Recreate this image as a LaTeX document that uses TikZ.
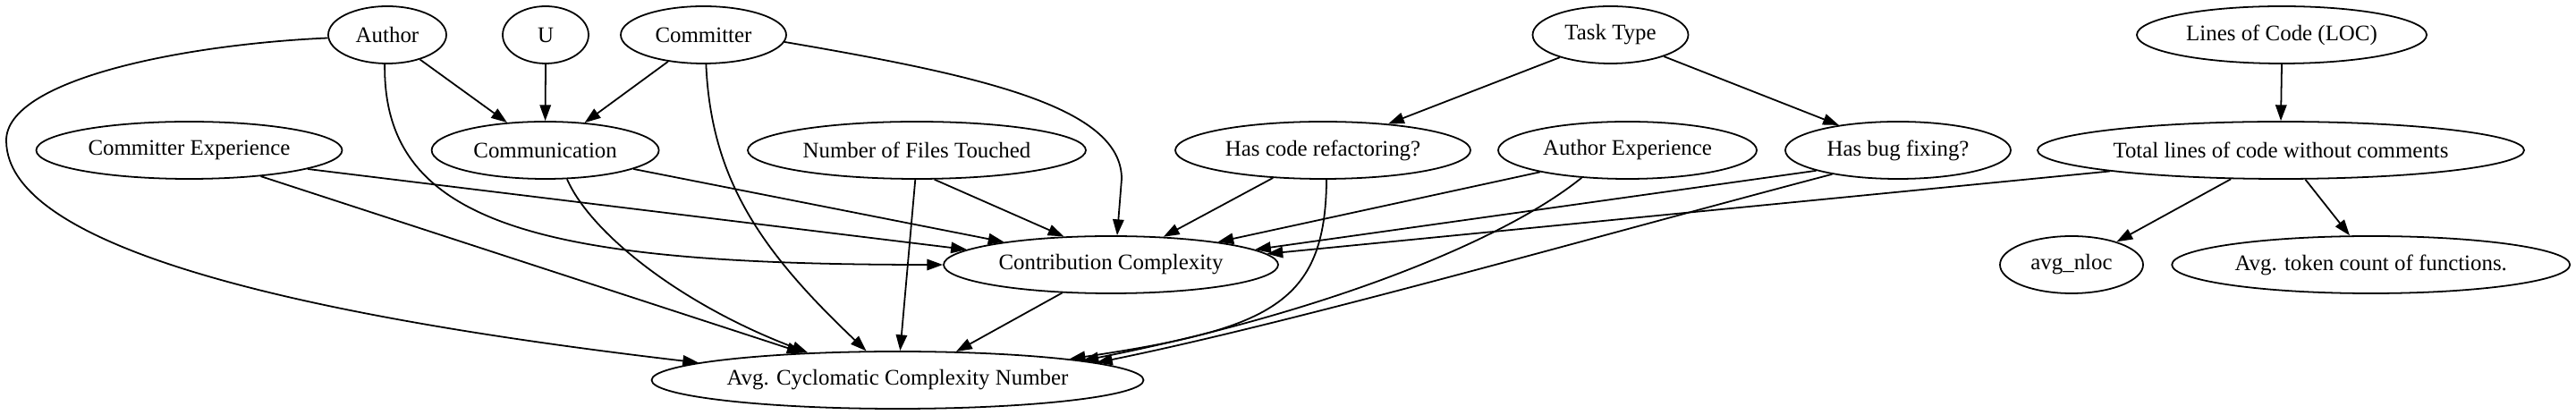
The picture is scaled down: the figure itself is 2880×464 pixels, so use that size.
\documentclass[tikz,border=0pt]{standalone}
\usepackage{fontspec}
\setmainfont{Liberation Serif}
\usetikzlibrary{shapes.geometric,arrows.meta}
\begin{document}
\begin{tikzpicture}[x=0.5625pt,y=-0.5625pt,
  nd/.style={draw, ellipse, inner sep=0pt, minimum height=36pt, minimum width=#1*0.5625pt, line width=1pt, font=\fontsize{14}{16}\selectfont},
  edge/.style={line width=1pt, -{Triangle[length=10pt,width=7pt]}}]
\useasboundingbox (0,0) rectangle (2880,464);
% row 1
\node[nd=132] (author) at (433,39) {Author};
\node[nd=96] (u) at (610,39) {U};
\node[nd=185] (committer) at (786.5,39) {Committer};
\node[nd=174] (task) at (1800.5,39) {Task Type};
\node[nd=324] (loc) at (2551,39) {Lines of Code (LOC)};
% row 2
\node[nd=342] (cexp) at (211.5,168) {Committer Experience};
\node[nd=254] (comm) at (609.6,168) {Communication};
\node[nd=378] (nft) at (1025,168) {Number of Files Touched};
\node[nd=330] (refac) at (1479,168) {Has code refactoring?};
\node[nd=289] (aexp) at (1819.5,168) {Author Experience};
\node[nd=252] (bug) at (2122,168) {Has bug fixing?};
\node[nd=544] (total) at (2550,168) {Total lines of code without comments};
% row 3
\node[nd=374] (contrib) at (1242,296) {Contribution Complexity};
\node[nd=160] (nloc) at (2316,296) {avg\_nloc};
\node[nd=445] (token) at (2650.7,296) {Avg. token count of functions.};
% row 4
\node[nd=550] (acc) at (1003.5,425) {Avg. Cyclomatic Complexity Number};
\coordinate (lb) at (7,157);
\coordinate (cb) at (1254,200);
% edges
\draw[edge] (author.-37) -- (comm.144);
\draw[edge] (u.-90) -- (comm.90);
\draw[edge] (committer.-143.5) -- (comm.35);
\draw[edge] (author.183.5) .. controls (200,50) and (7,90) .. (lb) .. controls (7,280) and (350,355) .. (acc.175.5);
\draw[edge] (author.265) .. controls (428,250) and (600,296) .. (contrib.west);
\draw[edge] (committer.-5.6) .. controls (1100,85) and (1254,120) .. (cb) -- (contrib.78);
\draw[edge] (committer.-85) .. controls (795,200) and (850,280) .. (acc.137);
\draw[edge] (cexp.-9.7) -- (contrib.174.3);
\draw[edge] (cexp.-20) -- (acc.164);
\draw[edge] (comm.-12) -- (contrib.168.6);
\draw[edge] (comm.-53.4) .. controls (660,260) and (760,340) .. (acc.163.5);
\draw[edge] (nft.-59) -- (contrib.149);
\draw[edge] (nft.-93.6) -- (acc.85.7);
\draw[edge] (refac.-151.5) -- (contrib.28.6);
\draw[edge] (refac.-83) .. controls (1482,340) and (1420,368) .. (acc.7.5);
\draw[edge] (task.-156.4) -- (refac.22.7);
\draw[edge] (task.-22.3) -- (bug.157.8);
\draw[edge] (aexp.-166.7) -- (contrib.12.8);
\draw[edge] (aexp.-149.3) .. controls (1680,270) and (1480,350) .. (acc.6.7);
\draw[edge] (bug.-166.6) -- (contrib.6.1);
\draw[edge] (bug.-160.1) .. controls (1800,260) and (1450,360) .. (acc.5.9);
\draw[edge] (total.-173.3) -- (contrib.4.8);
\draw[edge] (loc.-90) -- (total.90);
\draw[edge] (total.-150.9) -- (nloc.27.9);
\draw[edge] (total.-50.9) -- (token.126.8);
\draw[edge] (contrib.-150.7) -- (acc.26.7);
\end{tikzpicture}
\end{document}
